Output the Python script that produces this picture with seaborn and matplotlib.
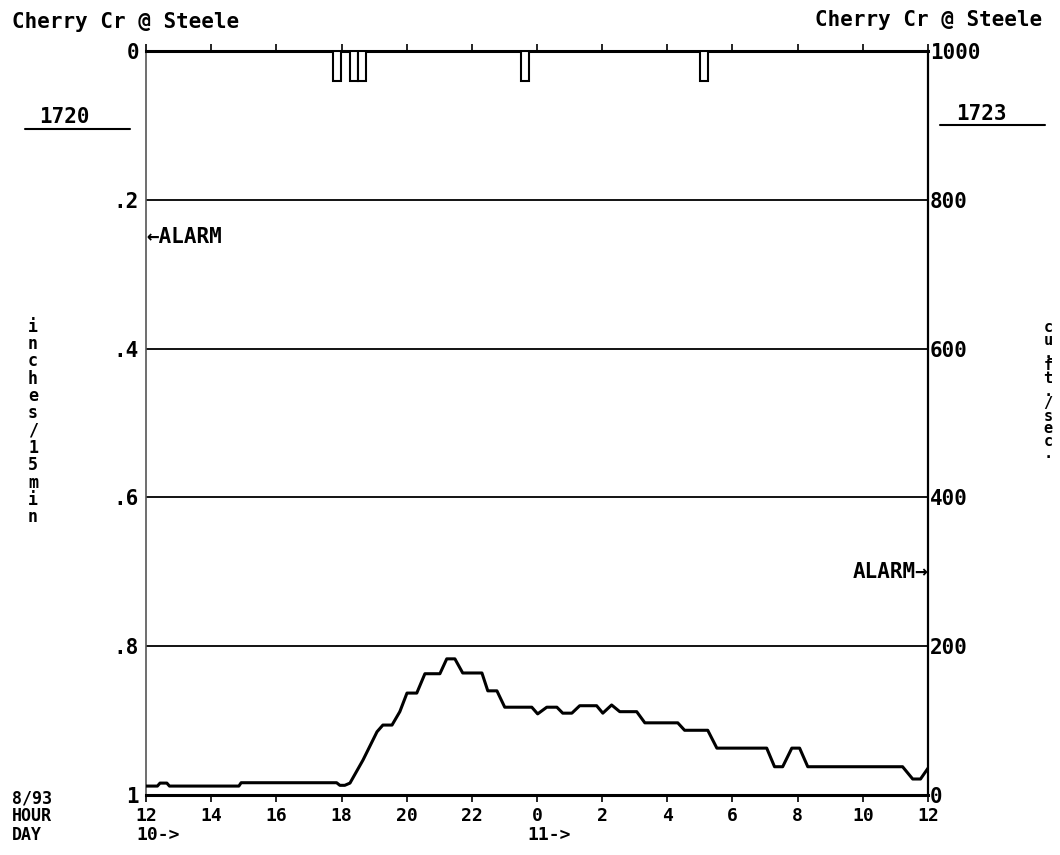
import matplotlib
matplotlib.use("Agg")
import matplotlib.pyplot as plt
from matplotlib.lines import Line2D
import pandas as pd
import seaborn as sns

# Streamflow at Cherry Cr @ Steele, hours after 12:00 on day 10
flow_hours = [0.00, 0.35, 0.43, 0.64, 0.72, 2.85, 2.92, 5.85, 5.95, 6.10,
              6.26, 6.66, 7.09, 7.27, 7.55, 7.79, 8.01, 8.31, 8.56, 9.02,
              9.23, 9.48, 9.72, 10.31, 10.49, 10.77, 11.01, 11.84, 12.02, 12.30,
              12.61, 12.79, 13.07, 13.31, 13.83, 14.02, 14.29, 14.54, 15.06, 15.31,
              16.32, 16.53, 17.24, 17.52, 19.05, 19.29, 19.54, 19.82, 20.06, 20.31,
              23.22, 23.53, 23.77, 24.00]
flow_cfs = [12, 12, 16, 16, 12, 12, 16.5, 16.5, 13, 13,
            16, 47, 85, 94, 94, 112, 137, 137, 163, 163,
            183, 183, 164, 164, 140, 140, 118, 118, 109, 118,
            118, 110, 110, 120, 120, 110, 121, 112, 112, 97,
            97, 87, 87, 63, 63, 38, 38, 63, 63, 38,
            38, 21.5, 21.5, 36]

# 15-minute rainfall totals (interval start, hours after 12:00 day 10)
rain_start = [5.75, 6.25, 6.50, 11.50, 17.00]
rain_in = [0.04, 0.04, 0.04, 0.04, 0.04]

hour_ticks = list(range(0, 25, 2))
hour_labels = ["12", "14", "16", "18", "20", "22", "0", "2", "4", "6", "8", "10", "12"]
rain_ticks = [0, 0.2, 0.4, 0.6, 0.8, 1.0]
rain_labels = ["0", ".2", ".4", ".6", ".8", "1"]
flow_ticks = [0, 200, 400, 600, 800, 1000]
flow_labels = ["0", "200", "400", "600", "800", "1000"]

site = "Cherry Cr @ Steele"
gauge_left, gauge_right = "1720", "1723"
rain_alarm = 0.25
flow_alarm = 300

sns.set_theme(style="white")
plt.rcParams["font.family"] = ["DejaVu Sans Mono", "DejaVu Sans"]
plt.rcParams["font.weight"] = "bold"
for key in ["text.color", "axes.labelcolor", "xtick.color", "ytick.color", "axes.edgecolor"]:
    plt.rcParams[key] = "black"
FS = 15
FX = 13

W, H = 1060, 855
fig = plt.figure(figsize=(W / 100, H / 100), dpi=100)
ax = fig.add_axes([146 / W, 1 - 795 / H, 782 / W, 744 / H])
ax2 = ax.twinx()

# rainfall bars hang down from the top (inverted inch scale)
rain_df = pd.DataFrame({"start": rain_start, "inches": rain_in})
ax.bar(rain_df["start"], rain_df["inches"], width=0.25, align="edge",
       facecolor="white", edgecolor="black", linewidth=1.5, zorder=3)
ax.set_xlim(0, 24)
ax.set_ylim(1, 0)
ax.set_yticks(rain_ticks)
ax.set_yticklabels(rain_labels, fontsize=FS, fontweight="bold")
ax.set_xticks(hour_ticks)
ax.set_xticklabels(hour_labels, fontsize=FX, fontweight="bold")
for v in rain_ticks[1:-1]:
    ax.axhline(v, color="black", lw=1.3, zorder=1)

ax.tick_params(axis="y", length=0, pad=5)
ax.tick_params(axis="x", which="both", bottom=True, top=True, direction="out",
               length=5, width=1.2, color="black", pad=3.5)
ax.spines["top"].set_linewidth(2.2)
ax.spines["bottom"].set_linewidth(2.2)
ax.spines["left"].set_color("#555555")
ax.spines["left"].set_linewidth(1.2)
ax.spines["right"].set_visible(False)
for s in ["top", "bottom"]:
    ax.spines[s].set_color("black")

# discharge hydrograph on the right-hand scale
flow_df = pd.DataFrame({"hour": flow_hours, "cfs": flow_cfs})
sns.lineplot(data=flow_df, x="hour", y="cfs", ax=ax2, color="black",
             linewidth=2.2, sort=False)
ax2.set_ylim(0, 1000)
ax2.set_xlim(0, 24)
ax2.set_xlabel("")
ax2.set_ylabel("")
ax2.set_yticks(flow_ticks)
ax2.set_yticklabels(flow_labels, fontsize=FS, fontweight="bold")
ax2.tick_params(axis="y", length=0, pad=1.5)
for s in ["top", "bottom", "left"]:
    ax2.spines[s].set_visible(False)
ax2.spines["right"].set_color("black")
ax2.spines["right"].set_linewidth(1.6)

# alarm markers
ax.text(0, rain_alarm, "\u2190ALARM", ha="left", va="center",
        fontsize=FS, fontweight="bold")
ax2.text(24, flow_alarm, "ALARM\u2192", ha="right", va="center",
         fontsize=FS, fontweight="bold")

# day markers under the hour labels
for hr, lab in [(0, "10->"), (12, "11->")]:
    ax.annotate(lab, xy=(hr, 0), xycoords=("data", "axes fraction"),
                xytext=(-10, -40), textcoords="offset pixels",
                ha="left", va="center", fontsize=FX, fontweight="bold")

# headers
fig.text(12 / W, 1 - 22 / H, site, ha="left", va="center", fontsize=FS, fontweight="bold")
fig.text(1042 / W, 1 - 20 / H, site, ha="right", va="center", fontsize=FS, fontweight="bold")

fig.text(64 / W, 1 - 117 / H, gauge_left, ha="center", va="center", fontsize=FS, fontweight="bold")
fig.add_artist(Line2D([25 / W, 130 / W], [1 - 129 / H] * 2, color="black", lw=1.5,
                      transform=fig.transFigure))
fig.text(981 / W, 1 - 114 / H, gauge_right, ha="center", va="center", fontsize=FS, fontweight="bold")
fig.add_artist(Line2D([940 / W, 1045 / W], [1 - 125 / H] * 2, color="black", lw=1.5,
                      transform=fig.transFigure))

# stacked axis titles
fig.text(33 / W, 1 - 422 / H, "\n".join("inches/15min"), ha="center", va="center",
         fontsize=12, fontweight="bold", linespacing=0.95)
fig.text(1048 / W, 1 - 391 / H, "\n".join("cu.ft./sec."), ha="center", va="center",
         fontsize=11, fontweight="bold", linespacing=0.8)

# date / hour / day legend
for txt, yy in [("8/93", 798), ("HOUR", 816), ("DAY", 835)]:
    fig.text(12 / W, 1 - yy / H, txt, ha="left", va="center", fontsize=12, fontweight="bold")

fig.savefig("out.png", dpi=100)
